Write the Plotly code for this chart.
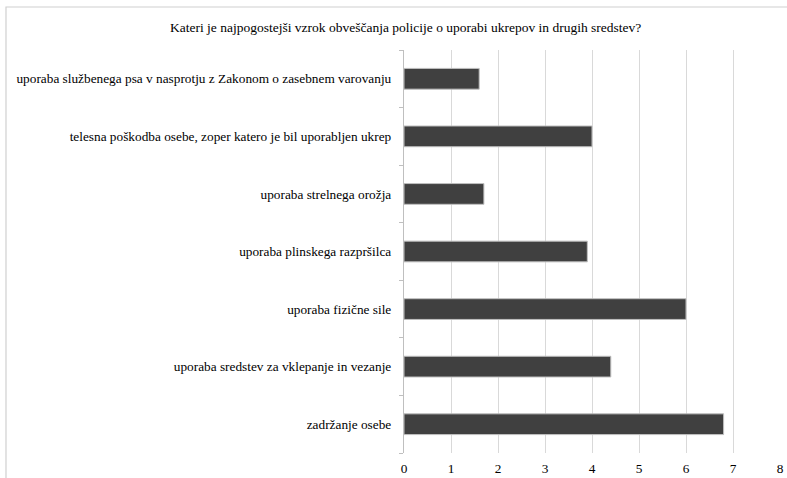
import plotly.graph_objects as go

title_text = "Kateri je najpogostejši vzrok obveščanja policije o uporabi ukrepov in drugih sredstev?"
categories = [
    "zadržanje osebe",
    "uporaba sredstev za vklepanje in vezanje",
    "uporaba fizične sile",
    "uporaba plinskega razpršilca",
    "uporaba strelnega orožja",
    "telesna poškodba osebe, zoper katero je bil uporabljen ukrep",
    "uporaba službenega psa v nasprotju z Zakonom o zasebnem varovanju",
]
values = [6.8, 4.4, 6.0, 3.9, 1.7, 4.0, 1.6]
x_ticks = [0, 1, 2, 3, 4, 5, 6, 7, 8]

W, H = 787, 478
L, R, T, B = 404, 7, 50, 25
pw, ph = W - L - R, H - T - B

def px(x):
    return (x - L) / pw

def py(y):
    return (H - B - y) / ph

SERIF = "Liberation Serif, Times New Roman, Times, serif"
TXT = "#000000"

fig = go.Figure(go.Bar(
    x=values, y=categories, orientation="h",
    marker=dict(color="#404040", line=dict(color="#bfbfbf", width=1)),
    hoverinfo="skip",
))

fig.update_layout(
    width=W, height=H,
    margin=dict(l=L, r=R, t=T, b=B, autoexpand=False),
    paper_bgcolor="white", plot_bgcolor="white",
    bargap=0.64,
    showlegend=False,
    font=dict(family=SERIF, color=TXT, size=13.3),
    annotations=[dict(
        text=title_text, xref="paper", yref="paper",
        x=px(W / 2 + 12), y=py(27), xanchor="center", yanchor="middle",
        showarrow=False, font=dict(family=SERIF, size=13.5, color=TXT),
    )],
    shapes=[dict(
        type="rect", xref="paper", yref="paper",
        x0=px(6), x1=px(792), y0=py(7), y1=py(495),
        line=dict(color="#d0d0d0", width=1.2), fillcolor="rgba(0,0,0,0)", layer="below",
    )],
)
fig.update_xaxes(
    range=[0, 8], tickvals=x_ticks, ticktext=[str(t) for t in x_ticks],
    showgrid=True, gridcolor="#d9d9d9", gridwidth=1.2,
    zeroline=False, showline=False, ticks="", automargin=False,
    tickfont=dict(family=SERIF, size=13.3, color=TXT), ticklabelstandoff=6,
)
fig.update_yaxes(
    type="category", categoryorder="array", categoryarray=categories,
    showline=True, linecolor="#bfbfbf", linewidth=1.2, automargin=False,
    ticks="outside", tickson="boundaries", ticklen=4, tickcolor="#bfbfbf",
    showgrid=False, tickfont=dict(family=SERIF, size=13.3, color=TXT), ticklabelstandoff=9,
)

fig.write_html(
    "out.html",
    config={"displayModeBar": False},
    post_script="document.body.style.margin='0';document.body.style.padding='0';",
)
